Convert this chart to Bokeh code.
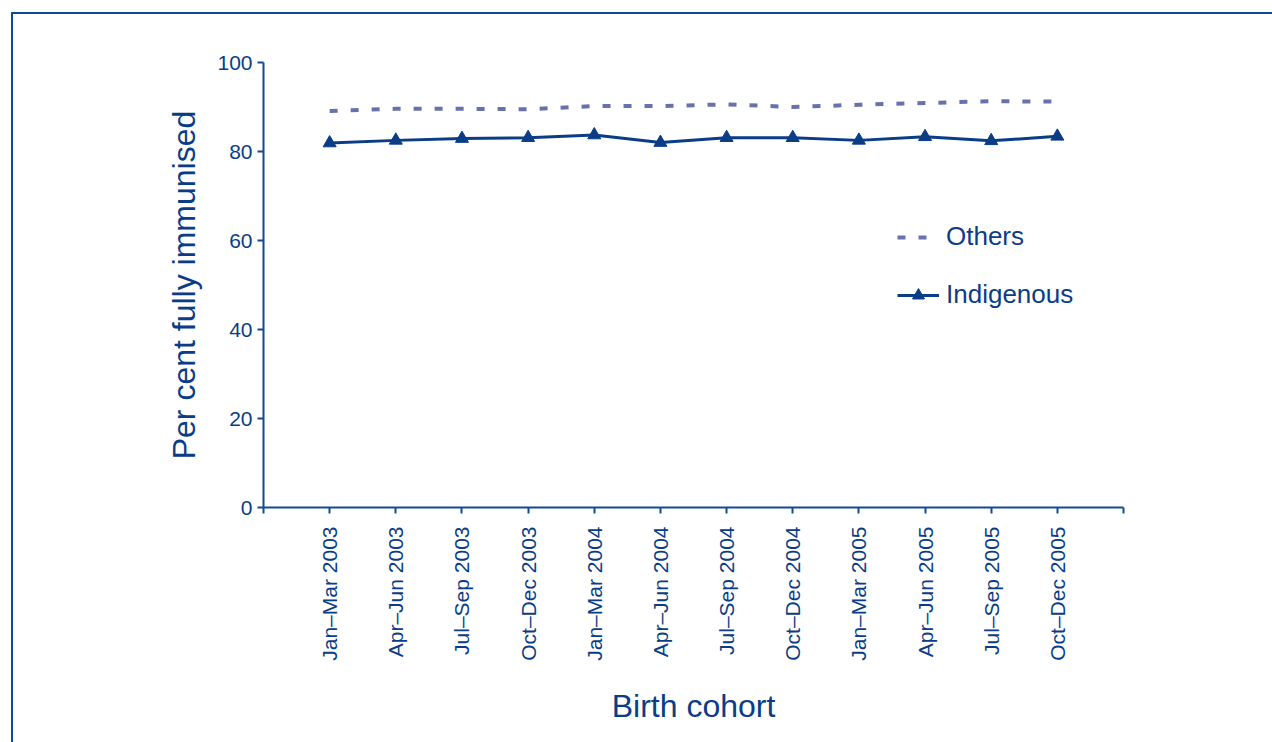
import math
from bokeh.plotting import figure
from bokeh.models import Range1d, FixedTicker, Legend, LegendItem
from bokeh.layouts import column
from bokeh.embed import file_html
from bokeh.resources import INLINE

cohorts = ["Jan–Mar 2003", "Apr–Jun 2003", "Jul–Sep 2003", "Oct–Dec 2003",
           "Jan–Mar 2004", "Apr–Jun 2004", "Jul–Sep 2004", "Oct–Dec 2004",
           "Jan–Mar 2005", "Apr–Jun 2005", "Jul–Sep 2005", "Oct–Dec 2005"]
others = [89.1, 89.6, 89.6, 89.5, 90.2, 90.2, 90.6, 90.0, 90.5, 90.9, 91.3, 91.2]
indigenous = [81.9, 82.5, 82.9, 83.1, 83.7, 82.0, 83.1, 83.1, 82.5, 83.3, 82.4, 83.4]
y_ticks = [0, 20, 40, 60, 80, 100]

xpos = list(range(1, len(cohorts) + 1))

NAVY = "#0a3d86"
AXIS = "#134a92"
OTHERS_C = "#6872aa"
FONT = "Liberation Sans"

p = figure(width=1259, height=728, output_backend="svg", toolbar_location=None,
           x_range=Range1d(0, len(cohorts) + 1), y_range=Range1d(0, 100),
           min_border_left=250, min_border_top=48, min_border_right=149,
           min_border_bottom=235)
p.outline_line_color = None
p.xgrid.visible = False
p.ygrid.visible = False
p.background_fill_color = "white"
p.border_fill_color = "white"

r_oth = p.line(xpos, others, line_color=OTHERS_C, line_width=4, line_dash="8 13")
r_ind_l = p.line(xpos, indigenous, line_color=NAVY, line_width=3)
r_ind_m = p.scatter(xpos, indigenous, marker="triangle", size=13,
                    fill_color=NAVY, line_color=NAVY)

# x axis
xa = p.xaxis[0]
xa.ticker = FixedTicker(ticks=list(range(0, len(cohorts) + 2)))
overrides = {0: "", len(cohorts) + 1: ""}
for i, c in enumerate(cohorts):
    overrides[i + 1] = c
xa.major_label_overrides = overrides
xa.major_label_orientation = math.pi / 2
xa.axis_label = "Birth cohort"

ya = p.yaxis[0]
ya.ticker = FixedTicker(ticks=y_ticks)
ya.axis_label = "Per cent fully immunised"

for ax in (xa, ya):
    ax.axis_line_color = AXIS
    ax.axis_line_width = 2
    ax.major_tick_line_color = AXIS
    ax.major_tick_line_width = 2
    ax.major_tick_out = 6
    ax.major_tick_in = 0
    ax.minor_tick_line_color = None
    ax.major_label_text_color = NAVY
    ax.major_label_text_font = FONT
    ax.major_label_text_font_size = "21px"
    ax.axis_label_text_color = NAVY
    ax.axis_label_text_font = FONT
    ax.axis_label_text_font_size = "32px"
    ax.axis_label_text_font_style = "normal"

xa.major_label_standoff = 13
ya.major_label_standoff = 5
xa.axis_label_standoff = 24
ya.axis_label_standoff = 12

legend = Legend(items=[LegendItem(label="Others", renderers=[r_oth]),
                       LegendItem(label="Indigenous", renderers=[r_ind_l, r_ind_m])],
                location=(634, 197))
legend.label_text_font = FONT
legend.label_text_font_size = "26px"
legend.label_text_color = NAVY
legend.glyph_width = 42
legend.glyph_height = 30
legend.label_height = 30
legend.spacing = 27
legend.label_standoff = 7
legend.padding = 0
legend.margin = 0
legend.border_line_alpha = 0
legend.background_fill_alpha = 0
p.add_layout(legend, "center")

layout = column(p, styles={"margin-left": "11px", "margin-top": "12px",
                           "border-left": "2px solid #0b4a96",
                           "border-top": "2px solid #0b4a96"})

open("out.html", "w").write(file_html(layout, INLINE))
